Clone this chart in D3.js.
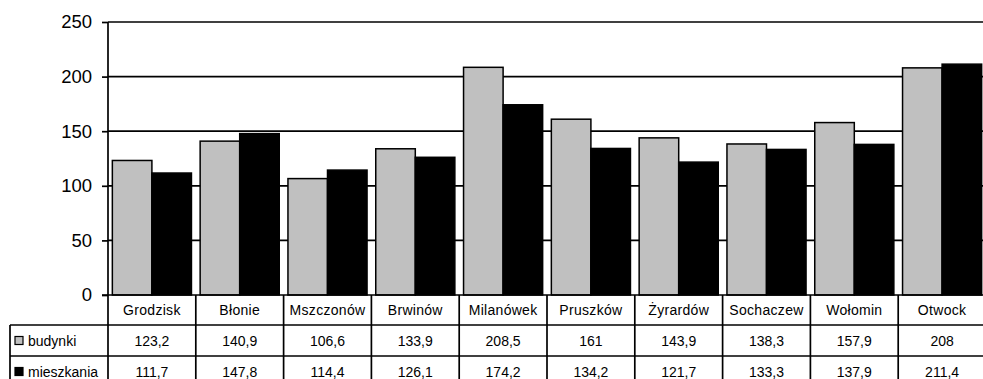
<!DOCTYPE html>
<html>
<head>
<meta charset="utf-8">
<script src="https://cdn.jsdelivr.net/npm/d3@7"></script>
<style>
  html, body { margin: 0; padding: 0; background: #fff; }
  svg { display: block; font-family: "Liberation Sans", Arial, sans-serif; }
</style>
</head>
<body>
<svg id="chart" width="983" height="379"></svg>
<script>
// Towns shown along the category axis
const categories = ["Grodzisk", "Błonie", "Mszczonów", "Brwinów", "Milanówek",
                    "Pruszków", "Żyrardów", "Sochaczew", "Wołomin", "Otwock"];
// Series names and values
const seriesNames = ["budynki", "mieszkania"];
const budynki    = [123.2, 140.9, 106.6, 133.9, 208.5, 161, 143.9, 138.3, 157.9, 208];
const mieszkania = [111.7, 147.8, 114.4, 126.1, 174.2, 134.2, 121.7, 133.3, 137.9, 211.4];
// Value-axis ticks
const yTicks = [0, 50, 100, 150, 200, 250];

const seriesValues = [budynki, mieszkania];
const seriesFill = ["#c0c0c0", "#000000"];

const svg = d3.select("#chart");
const W = 983, H = 379;
const plotLeft = 108, plotRight = 986, plotTop = 22, plotBase = 295;
const rowY = [295, 325, 356, 387];

const x = d3.scaleBand().domain(categories).range([plotLeft, plotRight]).padding(0);
const xs = d3.scaleBand().domain(seriesNames).range([0, x.bandwidth()])
  .paddingInner(0).paddingOuter(0.11);
const y = d3.scaleLinear().domain([0, 250]).range([plotBase, plotTop]);

// Horizontal gridlines
svg.append("g")
  .selectAll("line").data(yTicks.filter(d => d > 0)).join("line")
  .attr("x1", plotLeft).attr("x2", W)
  .attr("y1", d => y(d)).attr("y2", d => y(d))
  .attr("stroke", "#000").attr("stroke-width", 1.7);

// Bars
const groups = svg.append("g").selectAll("g").data(categories).join("g")
  .attr("transform", d => `translate(${x(d)},0)`);
groups.selectAll("rect")
  .data((c, i) => seriesNames.map((s, k) => ({ s, v: seriesValues[k][i], k })))
  .join("rect")
  .attr("x", d => xs(d.s))
  .attr("width", xs.bandwidth())
  .attr("y", d => y(d.v))
  .attr("height", d => plotBase - y(d.v))
  .attr("fill", d => seriesFill[d.k])
  .attr("stroke", "#000").attr("stroke-width", 1.5);

// Value axis
const yAxis = svg.append("g")
  .attr("transform", `translate(${plotLeft},0)`)
  .call(d3.axisLeft(y).tickValues(yTicks).tickSize(6).tickPadding(10).tickFormat(d3.format("d")));
yAxis.select(".domain").remove();
yAxis.selectAll(".tick line").attr("stroke", "#000").attr("stroke-width", 1.7);
yAxis.selectAll(".tick text")
  .attr("font-size", 18.5).attr("fill", "#000")
  .attr("font-family", "'Liberation Sans', Arial, sans-serif");

// Axis line continuing down through the data table
svg.append("line")
  .attr("x1", plotLeft).attr("x2", plotLeft).attr("y1", plotTop).attr("y2", H)
  .attr("stroke", "#000").attr("stroke-width", 1.7);

// Data table
const table = svg.append("g");
// row separators
table.append("line").attr("x1", plotLeft - 6).attr("x2", W).attr("y1", plotBase).attr("y2", plotBase)
  .attr("stroke", "#000").attr("stroke-width", 1.7);
[rowY[1], rowY[2]].forEach(yy => {
  table.append("line").attr("x1", 10).attr("x2", W).attr("y1", yy).attr("y2", yy)
    .attr("stroke", "#000").attr("stroke-width", 1.7);
});
// left border of the legend column
table.append("line").attr("x1", 10).attr("x2", 10).attr("y1", rowY[1]).attr("y2", H)
  .attr("stroke", "#000").attr("stroke-width", 1.7);
// column separators
table.selectAll("line.col").data(categories.slice(1)).join("line")
  .attr("class", "col")
  .attr("x1", d => x(d)).attr("x2", d => x(d))
  .attr("y1", plotBase).attr("y2", H)
  .attr("stroke", "#000").attr("stroke-width", 1.7);

// category names
table.selectAll("text.cat").data(categories).join("text")
  .attr("class", "cat")
  .attr("x", d => x(d) + x.bandwidth() / 2)
  .attr("y", (rowY[0] + rowY[1]) / 2 + 5)
  .attr("text-anchor", "middle")
  .attr("font-size", 14)
  .attr("letter-spacing", 0.3)
  .text(d => d);

// value rows
seriesNames.forEach((s, k) => {
  const cy = (rowY[k + 1] + rowY[k + 2]) / 2;
  table.selectAll(`text.v${k}`).data(seriesValues[k]).join("text")
    .attr("class", `v${k}`)
    .attr("x", (d, i) => x(categories[i]) + x.bandwidth() / 2)
    .attr("y", cy + 5)
    .attr("text-anchor", "middle")
    .attr("font-size", 14)
    .text(d => String(d).replace(".", ","));
  // legend key
  table.append("rect")
    .attr("x", 15).attr("y", cy - 4).attr("width", 8).attr("height", 8)
    .attr("fill", seriesFill[k]).attr("stroke", "#000").attr("stroke-width", 1.2);
  table.append("text")
    .attr("x", 28).attr("y", cy + 5)
    .attr("font-size", 14)
    .text(s);
});
</script>
</body>
</html>
